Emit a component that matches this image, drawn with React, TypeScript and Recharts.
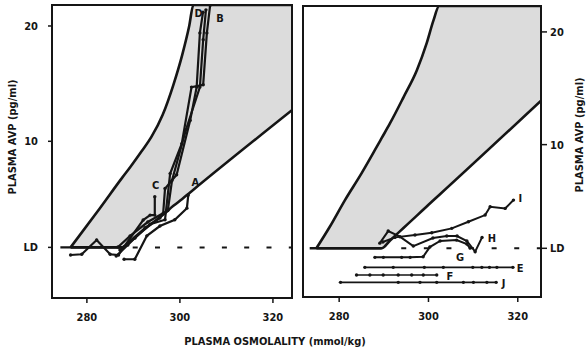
import React from 'react';
import { ComposedChart, Line, Area, XAxis, YAxis, ReferenceArea, ReferenceDot } from 'recharts';

const LD = 0.8;
const OSM_TICKS = [280, 300, 320];
const AVP_TICKS = [LD, 10, 20];

// ---- Left panel: normal range band
const leftBandOsm = [276.5, 282.8, 287.6, 289.3, 291.8, 293.9, 296.3, 298.6, 300.5, 302.0, 302.9, 324.1];
const leftBandLow = [0.8, 0.8, 0.8, 1.35, 2.2, 2.85, 3.6, 4.4, 5.0, 5.5, 5.8, 12.7];
const leftBandHigh = [0.8, 4.2, 6.85, 7.75, 9.15, 10.4, 12.3, 14.9, 17.5, 20.0, 21.82, 21.82];

// ---- Left panel: patients A-D (+ one unlabeled)
const aOsm = [288.0, 290.3, 292.9, 295.7, 298.9, 301.5, 301.8];
const aAvp = [-0.23, -0.23, 1.8, 2.65, 3.2, 4.2, 5.34];
const bOsm = [287.1, 290.3, 293.6, 296.8, 297.9, 300.4, 302.5, 305.0, 305.8, 306.5];
const bAvp = [0.57, 1.6, 2.8, 3.2, 7.2, 9.8, 14.7, 14.9, 19.4, 21.8];
const cOsm = [276.5, 278.9, 282.1, 285.0, 286.8, 288.0, 292.1, 293.6, 294.6, 294.6];
const cAvp = [0.14, 0.2, 1.44, 0.2, 0.14, 0.86, 3.17, 3.6, 3.6, 5.2];
const dOsm = [286.3, 288.8, 292.5, 295.7, 296.4, 296.8, 299.3, 302.2, 303.6, 304.3, 304.97];
const dAvp = [0.05, 1.0, 2.5, 3.35, 3.75, 5.9, 7.1, 11.8, 14.7, 19.4, 21.2];
const uOsm = [286.7, 289.3, 293.1, 297.4, 298.3, 301.3, 304.3, 305.0, 305.6];
const uAvp = [0.83, 1.8, 3.0, 4.0, 6.6, 11.0, 14.7, 18.8, 21.4];

// ---- Right panel: normal range band
const rightBandOsm = [274.9, 277.9, 281.3, 285.0, 288.4, 289.5, 291.4, 294.4, 297.4, 299.6, 301.1, 302.4, 325.2];
const rightBandLow = [0.8, 0.8, 0.8, 0.8, 0.8, 0.8, 1.5, 2.6, 3.7, 4.51, 5.06, 5.53, 13.9];
const rightBandHigh = [0.8, 2.71, 5.08, 7.45, 9.8, 10.57, 11.9, 14.2, 16.6, 19.0, 21.0, 22.3, 22.3];

// ---- Right panel: patients E-J
const iOsm = [289.79, 292.49, 296.98, 300.73, 305.22, 308.94, 312.69, 313.81, 317.18, 319.04];
const iAvp = [1.36, 1.77, 1.98, 2.18, 2.57, 3.16, 3.75, 4.49, 4.34, 5.08];
const hOsm = [289.1, 290.98, 293.6, 296.6, 301.0, 304.1, 306.4, 308.6, 310.45, 312.0];
const hAvp = [1.26, 2.33, 1.83, 1.0, 1.71, 1.89, 1.89, 1.45, 0.5, 1.77];
const gOsm = [288.0, 289.9, 294.0, 295.9, 298.8, 300.3, 302.6, 306.3, 308.6, 309.3];
const gAvp = [0.0, 0.0, 0.0, 0.0, 0.05, 0.91, 1.45, 1.53, 1.18, 0.82];
const eOsm = [285.75, 292.11, 299.07, 303.33, 309.93, 311.95, 313.66, 315.32, 318.91];
const eAvp = [-0.89, -0.89, -0.89, -0.89, -0.89, -0.89, -0.89, -0.89, -0.89];
const fOsm = [283.89, 286.88, 289.86, 293.23, 296.24, 298.84, 301.85];
const fAvp = [-1.57, -1.57, -1.57, -1.57, -1.57, -1.57, -1.57];
const jOsm = [280.3, 293.23, 298.1, 301.85, 307.82, 310.07, 313.08, 315.16];
const jAvp = [-2.22, -2.22, -2.22, -2.22, -2.22, -2.22, -2.22, -2.22];

// letter label anchors (osmolality, AVP)
const leftLetters = ['A', 'C', 'D', 'B'];
const leftLetterOsm = [303.3, 294.8, 304.0, 308.6];
const leftLetterAvp = [6.5, 6.2, 21.1, 20.7];
const rightLetters = ['I', 'H', 'G', 'E', 'F', 'J'];
const rightLetterOsm = [320.55, 314.2, 307.1, 320.55, 304.8, 316.8];
const rightLetterAvp = [5.23, 1.68, 0.05, -0.92, -1.66, -2.3];

// LD baseline pieces
const leftSolidLD = [274.3, 287.6];
const leftDashLD = [289.85, 324.1];
const rightSolidLD = [273.4, 289.5];
const rightDashLD = [293.9, 325.2];

const FONT = "'Liberation Sans Narrow', 'DejaVu Sans Condensed', 'Arial Narrow', sans-serif";
const INK = '#151515';

const pts = (xs: number[], vs: number[]) => xs.map((x, i) => ({ x, v: vs[i] }));
const band = (xs: number[], lo: number[], hi: number[]) => xs.map((x, i) => ({ x, lo: lo[i], hi: hi[i] }));
const ldLine = (xs: number[]) => xs.map((x) => ({ x, v: LD }));

const tickStyle = { fill: INK, fontSize: 11, fontWeight: 700, fontFamily: FONT };
const dotStyle = { r: 1.7, fill: INK, stroke: INK, strokeWidth: 0 };

type PanelProps = {
  side: 'left' | 'right';
};

function Panel({ side }: PanelProps) {
  const isLeft = side === 'left';
  const xDomain = isLeft ? [272.5, 324.1] : [271.9, 325.2];
  const yDomain = isLeft ? [-3.59, 21.82] : [-3.52, 22.3];
  const bandData = isLeft
    ? band(leftBandOsm, leftBandLow, leftBandHigh)
    : band(rightBandOsm, rightBandLow, rightBandHigh);
  const series = isLeft
    ? [pts(aOsm, aAvp), pts(bOsm, bAvp), pts(cOsm, cAvp), pts(dOsm, dAvp), pts(uOsm, uAvp)]
    : [pts(iOsm, iAvp), pts(hOsm, hAvp), pts(gOsm, gAvp), pts(eOsm, eAvp), pts(fOsm, fAvp), pts(jOsm, jAvp)];
  const letters = isLeft ? leftLetters : rightLetters;
  const lOsm = isLeft ? leftLetterOsm : rightLetterOsm;
  const lAvp = isLeft ? leftLetterAvp : rightLetterAvp;
  const solid = ldLine(isLeft ? leftSolidLD : rightSolidLD);
  const dashed = ldLine(isLeft ? leftDashLD : rightDashLD);

  return (
    <ComposedChart
      width={isLeft ? 300 : 288}
      height={351}
      margin={isLeft ? { top: 5, right: 8, bottom: 0, left: 0 } : { top: 6, right: 0, bottom: 0, left: 3 }}
    >
      <XAxis
        type="number"
        dataKey="x"
        domain={xDomain}
        ticks={OSM_TICKS}
        allowDataOverflow
        axisLine={false}
        tickLine={{ stroke: INK, strokeWidth: 1.5 }}
        tickSize={5}
        tickMargin={10}
        height={isLeft ? 53 : 54}
        tick={tickStyle}
        interval={0}
      />
      <YAxis
        type="number"
        dataKey="v"
        orientation={isLeft ? 'left' : 'right'}
        domain={yDomain}
        ticks={AVP_TICKS}
        allowDataOverflow
        axisLine={false}
        tickLine={{ stroke: INK, strokeWidth: 1.5 }}
        tickSize={isLeft ? 4 : 6}
        tickMargin={isLeft ? 10 : 3}
        width={isLeft ? 52 : 47}
        tick={tickStyle}
        interval={0}
        tickFormatter={(t: number) => (t === LD ? 'LD' : String(t))}
      />
      <Area
        data={bandData}
        dataKey={(d: any) => [d.lo, d.hi]}
        type="monotone"
        fill="#dcdcdc"
        fillOpacity={1}
        stroke={INK}
        strokeWidth={2.6}
        isAnimationActive={false}
        dot={false}
        activeDot={false}
      />
      <Line data={solid} dataKey="v" type="linear" stroke={INK} strokeWidth={2.4} dot={false} isAnimationActive={false} />
      <Line
        data={dashed}
        dataKey="v"
        type="linear"
        stroke={INK}
        strokeWidth={2}
        strokeDasharray={isLeft ? '5 17.3' : '5 17.6'}
        dot={false}
        isAnimationActive={false}
      />
      {series.map((s, i) => (
        <Line
          key={i}
          data={s}
          dataKey="v"
          type="linear"
          stroke={INK}
          strokeWidth={isLeft ? 2.2 : i >= 3 ? 1.6 : 2}
          dot={dotStyle}
          activeDot={false}
          isAnimationActive={false}
        />
      ))}
      <ReferenceArea
        x1={xDomain[0]}
        x2={xDomain[1]}
        y1={yDomain[0]}
        y2={yDomain[1]}
        fill="none"
        fillOpacity={0}
        stroke={INK}
        strokeWidth={2}
        ifOverflow="visible"
      />
      {letters.map((name, i) => (
        <ReferenceDot
          key={name}
          x={lOsm[i]}
          y={lAvp[i]}
          r={0}
          fill="none"
          stroke="none"
          ifOverflow="visible"
          label={{ value: name, position: 'center', fill: INK, fontSize: 11, fontWeight: 700, fontFamily: FONT }}
        />
      ))}
    </ComposedChart>
  );
}

const labelStyle: React.CSSProperties = {
  position: 'absolute',
  fontFamily: FONT,
  fontWeight: 700,
  fontSize: 11,
  color: INK,
  whiteSpace: 'nowrap',
  lineHeight: '12px',
};

export default function App() {
  return (
    <div style={{ position: 'absolute', left: 0, top: 0, width: 588, height: 351, background: '#fff', overflow: 'hidden' }}>
      <div style={{ position: 'absolute', left: 0, top: 0 }}>
        <Panel side="left" />
      </div>
      <div style={{ position: 'absolute', left: 300, top: 0 }}>
        <Panel side="right" />
      </div>
      <div style={{ ...labelStyle, left: 12.5, top: 137, transform: 'translate(-50%, -50%) rotate(-90deg)' }}>
        PLASMA AVP (pg/ml)
      </div>
      <div style={{ ...labelStyle, left: 580, top: 135, transform: 'translate(-50%, -50%) rotate(-90deg)' }}>
        PLASMA AVP (pg/ml)
      </div>
      <div style={{ ...labelStyle, left: 275, top: 342, transform: 'translate(-50%, -50%)' }}>
        PLASMA OSMOLALITY (mmol/kg)
      </div>
    </div>
  );
}
